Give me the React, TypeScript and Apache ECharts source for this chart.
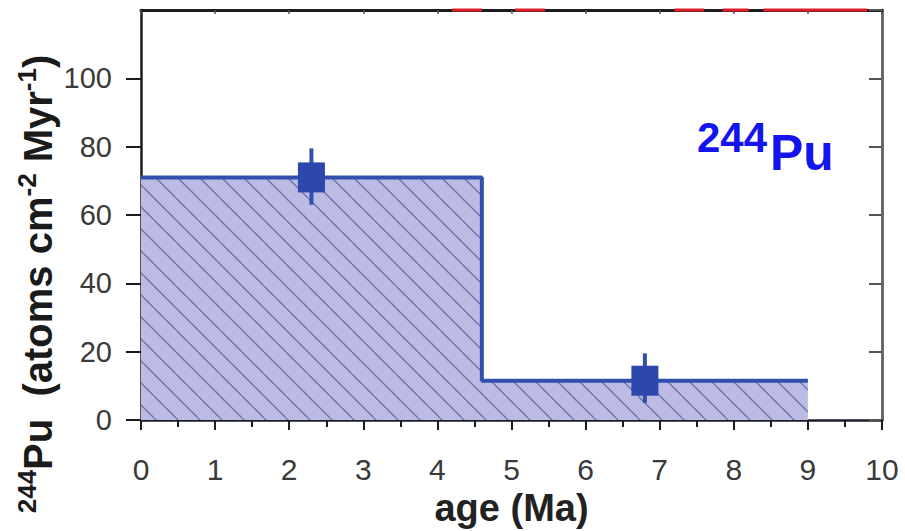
import React, { useEffect, useRef } from "react";
import * as echarts from "echarts";

// Step function of the deposition rate (start of each interval, value)
const stepAges = [0, 4.6, 9];
const stepFlux = [71, 11.5, 11.5];

// Measured points with their error ranges
const pointAges = [2.3, 6.8];
const pointFlux = [71, 11.5];
const errLow = [63, 5];
const errHigh = [79.5, 19.5];

// Red marks along the upper frame (from the neighbouring series)
const redStart = [4.2, 5.05, 7.2, 7.85, 8.4];
const redEnd = [4.6, 5.45, 7.6, 8.2, 9.8];
const redLevel = 120;

const xTickLabels = ["0", "1", "2", "3", "4", "5", "6", "7", "8", "9", "10"];
const yTickLabels = ["0", "20", "40", "60", "80", "100"];

const FONT = "'Liberation Sans', Arial, sans-serif";
const BLUE = "#3150ae";

function makeHatch(): HTMLCanvasElement {
  const s = 22;
  const c = document.createElement("canvas");
  c.width = s;
  c.height = s;
  const ctx = c.getContext("2d")!;
  ctx.fillStyle = "#bbbbe3";
  ctx.fillRect(0, 0, s, s);
  ctx.strokeStyle = "#6e6ea8";
  ctx.lineWidth = 1.3;
  for (let k = -1; k <= 1; k++) {
    ctx.beginPath();
    ctx.moveTo(k * s, 0);
    ctx.lineTo(k * s + s, s);
    ctx.stroke();
  }
  return c;
}

export default function App() {
  const ref = useRef<HTMLDivElement>(null);

  useEffect(() => {
    document.body.style.margin = "0";
    if (!ref.current) return;
    const chart = echarts.init(ref.current, null, { renderer: "svg" });
    const hatch = makeHatch();

    const stepData = stepAges.map((a, i) => [a, stepFlux[i]]);
    const pointData = pointAges.map((a, i) => [a, pointFlux[i]]);
    const errData = pointAges.map((a, i) => [a, errLow[i], errHigh[i]]);
    const redData = redStart.map((s, i) => [s, redEnd[i], redLevel]);

    chart.setOption({
      animation: false,
      grid: {
        left: 141,
        top: 10,
        width: 741,
        height: 410,
        containLabel: false,
        outerBoundsMode: "none",
      },
      xAxis: [
        {
          type: "value",
          min: 0,
          max: 10,
          interval: 1,
          position: "bottom",
          splitLine: { show: false },
          axisLine: { show: true, onZero: false, lineStyle: { color: "#1c1c28", width: 2.5 } },
          axisTick: { show: true, inside: false, length: 10, lineStyle: { color: "#1c1c28", width: 2 } },
          minorTick: { show: true, splitNumber: 2, length: 7, lineStyle: { color: "#1c1c28", width: 2 } },
          axisLabel: {
            margin: 34,
            fontSize: 30,
            fontFamily: FONT,
            color: "#3a3a3a",
            formatter: (v: number) => xTickLabels[Math.round(v)] ?? "",
          },
          name: "age (Ma)",
          nameLocation: "middle",
          nameGap: 68,
          nameTextStyle: { fontSize: 38, fontWeight: "bold", fontFamily: FONT, color: "#222" },
        },
        {
          type: "value",
          min: 0,
          max: 10,
          interval: 1,
          position: "top",
          splitLine: { show: false },
          axisLine: { show: true, onZero: false, lineStyle: { color: "#1c1c1c", width: 3 } },
          axisTick: { show: true, inside: true, length: 4, lineStyle: { color: "#555", width: 1.5 } },
          axisLabel: { show: false },
        },
      ],
      yAxis: [
        {
          type: "value",
          min: 0,
          max: 120,
          interval: 20,
          position: "left",
          splitLine: { show: false },
          axisLine: { show: true, onZero: false, lineStyle: { color: "#1c1c1c", width: 2.5 } },
          axisTick: { show: true, inside: false, length: 15, lineStyle: { color: "#1c1c1c", width: 2 } },
          axisLabel: {
            margin: 29,
            fontSize: 29,
            fontFamily: FONT,
            color: "#3a3a3a",
            showMaxLabel: false,
            formatter: (v: number) => yTickLabels[Math.round(v / 20)] ?? "",
          },
        },
        {
          type: "value",
          min: 0,
          max: 120,
          interval: 20,
          position: "right",
          splitLine: { show: false },
          axisLine: { show: true, onZero: false, lineStyle: { color: "#6a6a6a", width: 3 } },
          axisTick: { show: true, inside: true, length: 13, lineStyle: { color: "#555", width: 2 } },
          axisLabel: { show: false },
        },
      ],
      series: [
        {
          type: "line",
          step: "end",
          data: stepData,
          symbol: "none",
          lineStyle: { color: BLUE, width: 4 },
          areaStyle: {
            color: { image: hatch, repeat: "repeat", imageWidth: 22, imageHeight: 22 } as any,
            opacity: 1,
          },
          z: 2,
        },
        {
          type: "custom",
          data: errData,
          encode: { x: 0, y: [1, 2] },
          renderItem: (params: any, api: any) => {
            const x = api.value(0);
            const p1 = api.coord([x, api.value(1)]);
            const p2 = api.coord([x, api.value(2)]);
            return {
              type: "line",
              shape: { x1: p1[0], y1: p1[1], x2: p2[0], y2: p2[1] },
              style: { stroke: BLUE, lineWidth: 4 },
            };
          },
          z: 3,
        },
        {
          type: "scatter",
          data: pointData,
          symbol: "rect",
          symbolSize: [27, 30],
          itemStyle: { color: "#2c48ac", opacity: 1 },
          z: 4,
        },
        {
          type: "custom",
          data: redData,
          encode: { x: [0, 1], y: 2 },
          clip: false,
          renderItem: (params: any, api: any) => {
            const p1 = api.coord([api.value(0), api.value(2)]);
            const p2 = api.coord([api.value(1), api.value(2)]);
            return {
              type: "line",
              shape: { x1: p1[0], y1: p1[1], x2: p2[0], y2: p2[1] },
              style: { stroke: "#e01e2a", lineWidth: 3 },
            };
          },
          z: 5,
        },
      ],
      graphic: [
        {
          type: "text",
          x: 38,
          y: 284,
          rotation: Math.PI / 2,
          style: {
            text: "{sup|244}{b|Pu  (atoms cm}{sup|-2}{b| Myr}{sup|-1}{b|)}",
            align: "center",
            verticalAlign: "middle",
            fill: "#1a1a1a",
            rich: {
              b: { fontSize: 40, fontWeight: "bold", fontFamily: FONT, fill: "#1a1a1a", lineHeight: 48 },
              sup: {
                fontSize: 26,
                fontWeight: "bold",
                fontFamily: FONT,
                fill: "#1a1a1a",
                lineHeight: 26,
                verticalAlign: "top",
              },
            },
          },
        },
        {
          type: "text",
          x: 697,
          y: 137,
          style: {
            text: "244",
            fontSize: 42,
            fontWeight: "bold",
            fontFamily: FONT,
            fill: "#1414ee",
            align: "left",
            verticalAlign: "middle",
          },
        },
        {
          type: "text",
          x: 770,
          y: 153,
          style: {
            text: "Pu",
            fontSize: 50,
            fontWeight: "bold",
            fontFamily: FONT,
            fill: "#1414ee",
            align: "left",
            verticalAlign: "middle",
          },
        },
      ],
    });

    return () => chart.dispose();
  }, []);

  return <div ref={ref} style={{ width: 905, height: 531 }} />;
}
